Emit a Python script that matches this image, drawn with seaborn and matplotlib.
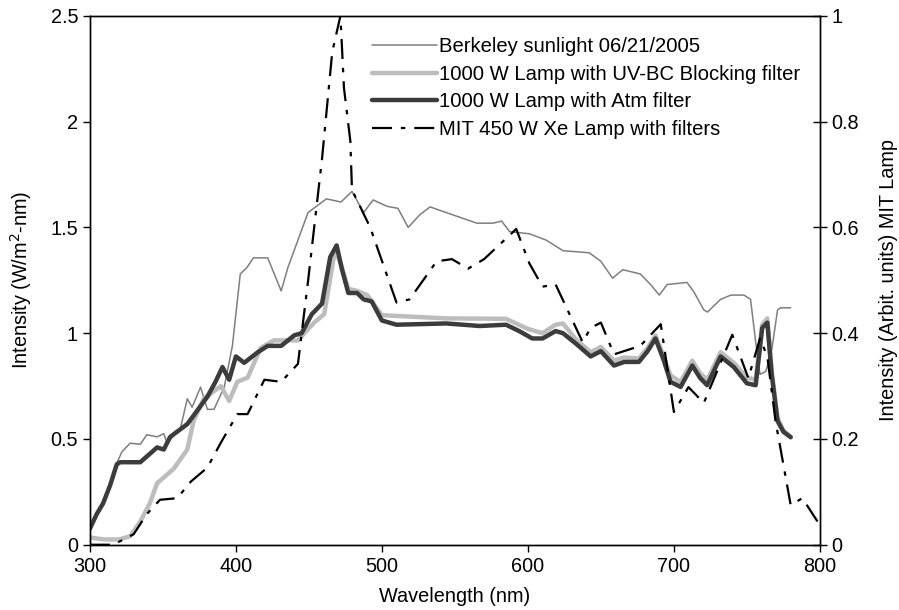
import numpy as np
import pandas as pd
import seaborn as sns
import matplotlib
matplotlib.use('Agg')
from matplotlib import pyplot as plt
from matplotlib import ticker as mtick


# Berkeley sunlight 06/21/2005
wl_sun = [300, 305, 310, 315, 318, 322, 327.6, 334.5, 339, 346, 350.6, 352.8, 362, 366.7,
          370, 375.8, 380.5, 385, 392, 397.6, 403, 407.5, 412, 421.8, 431, 435.6, 449.4,
          462, 472, 479.5, 487.5, 494, 503.4, 511, 518, 526, 533, 540, 565, 576, 582,
          587.5, 601, 612.5, 624, 642, 650, 658, 665, 677, 684, 690, 695.4, 709, 713.7,
          720.5, 723, 732, 739, 748, 752.5, 756, 759, 763, 767, 771, 773, 780]
sun = [0.07, 0.14, 0.2, 0.3, 0.38, 0.44, 0.48, 0.475, 0.52, 0.51, 0.525, 0.48, 0.55, 0.69,
       0.65, 0.745, 0.64, 0.64, 0.745, 0.94, 1.28, 1.31, 1.356, 1.356, 1.2, 1.31, 1.57,
       1.635, 1.62, 1.67, 1.57, 1.63, 1.60, 1.59, 1.50, 1.56, 1.597, 1.58, 1.52, 1.52, 1.53,
       1.48, 1.47, 1.44, 1.39, 1.38, 1.34, 1.26, 1.30, 1.28, 1.23, 1.18, 1.23, 1.24, 1.195,
       1.11, 1.10, 1.16, 1.18, 1.18, 1.16, 0.96, 0.805, 0.82, 0.92, 1.11, 1.12, 1.12]

# 1000 W lamp with UV-BC blocking filter
wl_uv = [300, 310, 320, 327.6, 334.5, 341, 346, 357.5, 366.7, 371, 378, 389.7, 395.4, 401,
         408, 417, 426, 442.5, 453.6, 460.5, 468, 472.7, 477, 483, 490, 500, 544, 585, 600,
         610, 619, 624, 633, 643, 650, 659, 666, 676, 682, 687.4, 693, 697.7, 704.6, 712.6,
         718, 722.8, 732, 741, 750, 756, 760.5, 764, 767, 771, 775, 780]
uv = [0.034, 0.025, 0.025, 0.04, 0.11, 0.195, 0.29, 0.36, 0.45, 0.585, 0.69, 0.75, 0.68, 0.77,
      0.79, 0.93, 0.966, 0.966, 1.05, 1.09, 1.40, 1.31, 1.21, 1.20, 1.18, 1.085, 1.07, 1.068, 1.02,
      1.0, 1.04, 1.046, 0.97, 0.91, 0.935, 0.87, 0.885, 0.88, 0.93, 0.99, 0.89, 0.80, 0.77, 0.87,
      0.81, 0.78, 0.91, 0.86, 0.79, 0.78, 1.04, 1.07, 0.82, 0.6, 0.54, 0.51]

# 1000 W lamp with Atm filter
wl_atm = [300, 304.6, 309, 313.8, 318.4, 320.7, 334.5, 346, 350.6, 355, 366.7, 380.5, 386,
          390.8, 395.4, 400, 405.7, 415, 421.8, 431, 440, 445, 452, 459, 464.6, 469, 472.7,
          477, 483, 487.5, 493, 500, 510, 544, 567, 585, 594, 603, 610, 619, 624, 633, 643,
          650, 659, 666, 676, 682, 687.4, 693, 697.7, 704.6, 712.6, 718, 722.8, 732, 741,
          750, 756, 760.5, 764, 767, 771, 775, 780]
atm = [0.076, 0.144, 0.195, 0.28, 0.38, 0.39, 0.39, 0.46, 0.45, 0.51, 0.57, 0.70, 0.77,
       0.84, 0.78, 0.89, 0.86, 0.91, 0.94, 0.94, 0.99, 1.0, 1.09, 1.14, 1.36, 1.415, 1.30,
       1.19, 1.19, 1.16, 1.15, 1.06, 1.04, 1.046, 1.034, 1.04, 1.01, 0.975, 0.975, 1.01, 1.0, 0.95, 0.89,
       0.915, 0.847, 0.864, 0.864, 0.915, 0.975, 0.873, 0.77, 0.746, 0.847, 0.788, 0.754, 0.89, 0.84,
       0.763, 0.754, 1.025, 1.05, 0.805, 0.585, 0.534, 0.508]

# MIT 450 W Xe lamp with filters (right axis, arbitrary units)
wl_mit = [300, 316, 330, 339, 348, 359.8, 369, 380.5, 389.7, 401, 408, 419.5, 431, 442.5,
          449.4, 459, 466, 471.6, 474, 478.4, 479.5, 492, 510, 519, 537.5, 548, 559, 570,
          592, 601, 610, 619, 637.5, 643, 650, 659, 677, 691, 700, 710, 720.5, 740, 751,
          759, 764, 769.6, 780, 788, 800]
mit = [0.0, 0.0, 0.02, 0.058, 0.085, 0.088, 0.119, 0.146, 0.193, 0.247, 0.247, 0.312, 0.308, 0.342,
       0.498, 0.73, 0.932, 1.0, 0.864, 0.763, 0.671, 0.6, 0.458, 0.464, 0.536, 0.54, 0.522, 0.54,
       0.597, 0.532, 0.488, 0.492, 0.383, 0.41, 0.42, 0.36, 0.376, 0.417, 0.251, 0.298, 0.268, 0.397, 0.315,
       0.39, 0.356, 0.234, 0.075, 0.088, 0.037]

sns.set_style('ticks')
plt.rcParams['font.family'] = ['Liberation Sans', 'DejaVu Sans']
plt.rcParams['font.size'] = 14
#seaborn greys the text, the original is plain black
plt.rcParams['text.color'] = 'black'
plt.rcParams['axes.labelcolor'] = 'black'

fig = plt.figure(figsize=(8.99, 6.10), dpi=100)
ax = fig.add_axes([0.100, 0.107, 0.812, 0.867])
ax2 = ax.twinx()

sns.lineplot(x=wl_sun, y=sun, ax=ax, color='#7f7f7f', lw=1.1, sort=False,
             label='Berkeley sunlight 06/21/2005')
sns.lineplot(x=wl_uv, y=uv, ax=ax, color='#bdbdbd', lw=3.2, sort=False,
             label='1000 W Lamp with UV-BC Blocking filter')
sns.lineplot(x=wl_atm, y=atm, ax=ax, color='#3c3c3c', lw=3.2, sort=False,
             label='1000 W Lamp with Atm filter')
sns.lineplot(x=wl_mit, y=mit, ax=ax2, color='black', lw=1.6, sort=False,
             dashes=False, label='MIT 450 W Xe Lamp with filters')
ax2.lines[0].set_dashes([9, 4, 2, 4])

ax.set_xlim(300, 800)
ax.set_ylim(0, 2.5)
ax2.set_ylim(0, 1)
ax.set_xticks([300, 400, 500, 600, 700, 800])
ax.set_yticks([0, 0.5, 1, 1.5, 2, 2.5])
ax2.set_yticks([0, 0.2, 0.4, 0.6, 0.8, 1])
fmt = mtick.FuncFormatter(lambda v, p: '{:g}'.format(v))
ax.yaxis.set_major_formatter(fmt)
ax2.yaxis.set_major_formatter(fmt)

ax.set_xlabel('Wavelength (nm)', fontsize=14.3, labelpad=8, color='black')
ax.set_ylabel('Intensity (W/m$^2$-nm)', fontsize=14.3, labelpad=12, color='black')
ax2.set_ylabel('Intensity (Arbit. units) MIT Lamp', fontsize=14.3, labelpad=14, color='black')

for a in (ax, ax2):
    for s in a.spines.values():
        s.set_color('black')
        s.set_linewidth(1.0)
ax.tick_params(axis='both', direction='out', length=5, width=1, colors='black',
               labelcolor='black', labelsize=14.3)
ax2.tick_params(axis='y', direction='inout', length=10, width=1, colors='black',
                labelcolor='black', labelsize=14.3)

h1, l1 = ax.get_legend_handles_labels()
h2, l2 = ax2.get_legend_handles_labels()
ax.get_legend().remove()
ax2.get_legend().remove()
leg = ax2.legend(h1 + h2, l1 + l2, loc='upper left', bbox_to_anchor=(0.375, 0.975),
                 frameon=False, handlelength=3.2, handletextpad=0.12, labelspacing=0.42,
                 fontsize=14.6, borderaxespad=0)
for t in leg.get_texts():
    t.set_color('black')

fig.savefig('out.png', dpi=100)
